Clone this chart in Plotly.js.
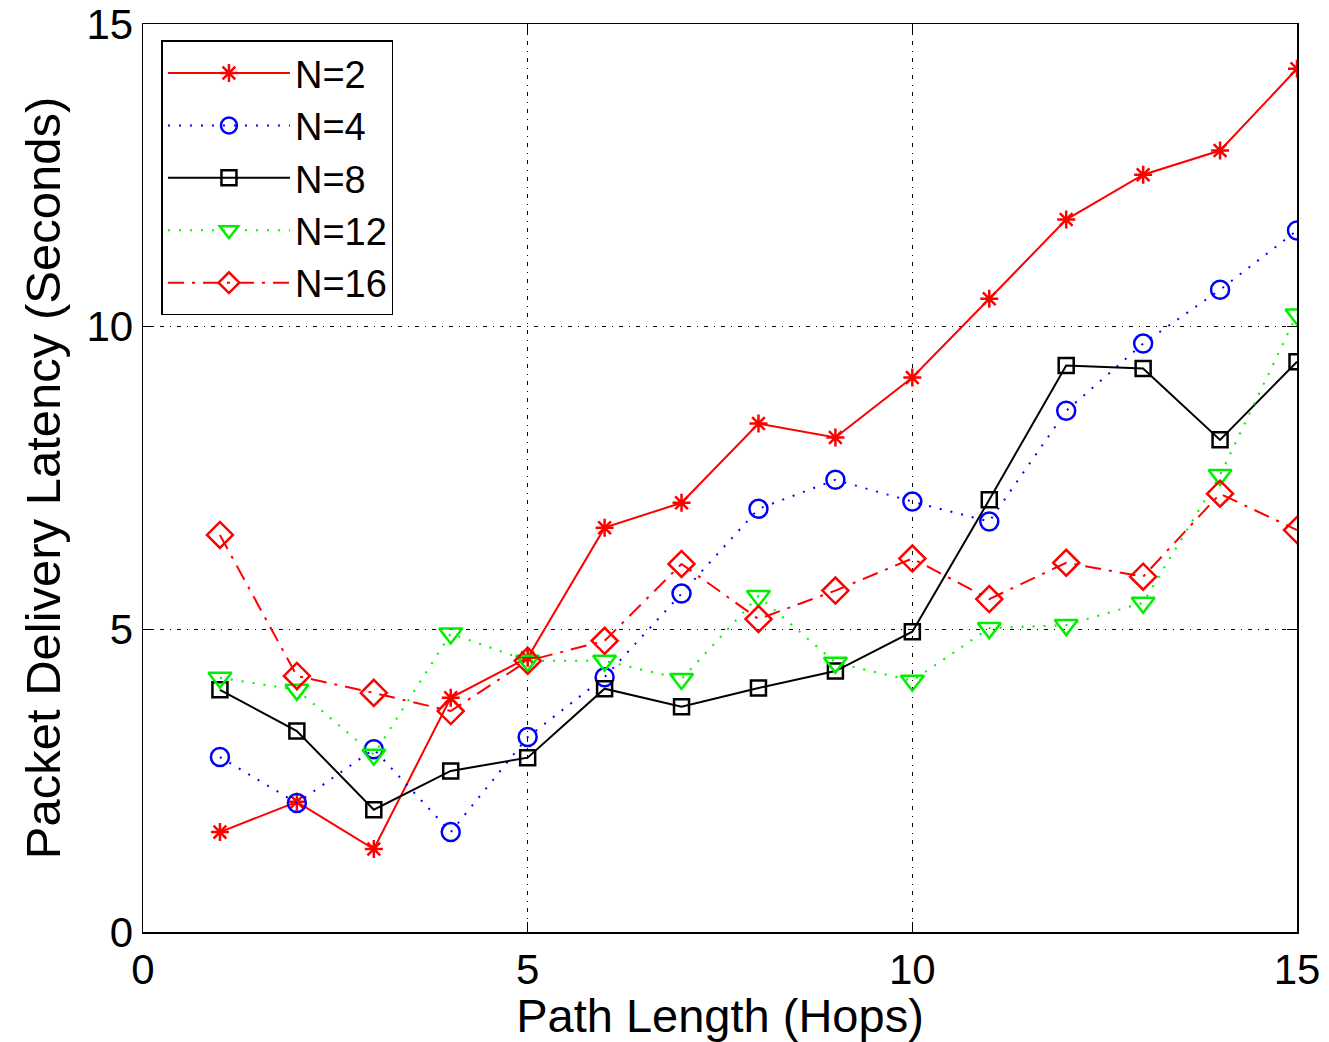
<!DOCTYPE html>
<html>
<head>
<meta charset="utf-8">
<script src="https://cdn.plot.ly/plotly-3.0.1.min.js"></script>
<style>html,body{margin:0;padding:0;background:#fff;}#chart{width:1329px;height:1042px;}</style>
</head>
<body>
<div id="chart"></div>
<script>
const hops = [1,2,3,4,5,6,7,8,9,10,11,12,13,14,15];
const n2  = [1.65,2.15,1.37,3.87,4.53,6.68,7.09,8.40,8.17,9.16,10.46,11.77,12.51,12.91,14.26];
const n4  = [2.89,2.13,3.02,1.65,3.22,4.21,5.59,6.99,7.47,7.11,6.78,8.61,9.72,10.61,11.59];
const n8  = [4.00,3.32,2.02,2.66,2.88,4.02,3.72,4.03,4.31,4.96,7.14,9.36,9.31,8.13,9.42];
const n12 = [4.20,4.00,2.93,4.93,4.48,4.48,4.18,5.55,4.45,4.15,5.02,5.07,5.44,7.55,10.20];
const n16 = [6.56,4.23,3.95,3.65,4.48,4.81,6.08,5.17,5.64,6.17,5.50,6.10,5.87,7.24,6.64];
const names = ['N=2','N=4','N=8','N=12','N=16'];
const xTicks = [0,5,10,15];
const yTicks = [0,5,10,15];

const FONT = 'Liberation Sans, Arial, sans-serif';
const LW = 2;
const traces = [
  {x:hops,y:n2,name:names[0],mode:'lines+markers',line:{color:'#ff0000',width:LW,dash:'solid'},
   marker:{symbol:'asterisk-open',size:15,color:'#ff0000',line:{color:'#ff0000',width:2.5}}},
  {x:hops,y:n4,name:names[1],mode:'lines+markers',line:{color:'#0000ff',width:LW,dash:'2px,9px'},
   marker:{symbol:'circle-open',size:18,color:'#0000ff',line:{color:'#0000ff',width:2.5}}},
  {x:hops,y:n8,name:names[2],mode:'lines+markers',line:{color:'#000000',width:LW,dash:'solid'},
   marker:{symbol:'square-open',size:15,color:'#000000',line:{color:'#000000',width:2.5}}},
  {x:hops,y:n12,name:names[3],mode:'lines+markers',line:{color:'#00ee00',width:LW,dash:'2px,9px'},
   marker:{symbol:'triangle-down-open',size:20,color:'#00ee00',line:{color:'#00ee00',width:2.5}}},
  {x:hops,y:n16,name:names[4],mode:'lines+markers',line:{color:'#ff0000',width:LW,dash:'16px,8px,3px,8px'},
   marker:{symbol:'diamond-open',size:20,color:'#ff0000',line:{color:'#ff0000',width:2.5}}}
];

const axisCommon = {
  showline:true, linecolor:'#000', linewidth:1.5, mirror:'ticks',
  ticks:'inside', ticklen:10, tickwidth:1.5, tickcolor:'#000',
  showgrid:true, gridcolor:'#000', gridwidth:1.3, griddash:'4px,6px,1px,6px',
  zeroline:false, tickfont:{family:FONT,size:42,color:'#000'}
};

const layout = {
  width:1329, height:1042,
  margin:{l:143,r:32,t:24,b:110},
  paper_bgcolor:'#fff', plot_bgcolor:'#fff',
  showlegend:true,
  xaxis:Object.assign({}, axisCommon, {range:[0,15], tickvals:xTicks, ticktext:xTicks.map(String),
    title:{text:'Path Length (Hops)', font:{family:FONT,size:47,color:'#000'}, standoff:4}}),
  yaxis:Object.assign({}, axisCommon, {range:[0,15], tickvals:yTicks, ticktext:yTicks.map(String),
    title:{text:'Packet Delivery Latency (Seconds)', font:{family:FONT,size:49,color:'#000'}, standoff:10}}),
  legend:{x:0.016,y:0.982,xanchor:'left',yanchor:'top',bgcolor:'#fff',bordercolor:'#000',borderwidth:1.5,
    font:{family:FONT,size:38,color:'#000'}, itemwidth:122, tracegroupgap:0},
  font:{family:FONT}
};

Plotly.newPlot('chart', traces, layout, {displayModeBar:false, staticPlot:true});
</script>
</body>
</html>
